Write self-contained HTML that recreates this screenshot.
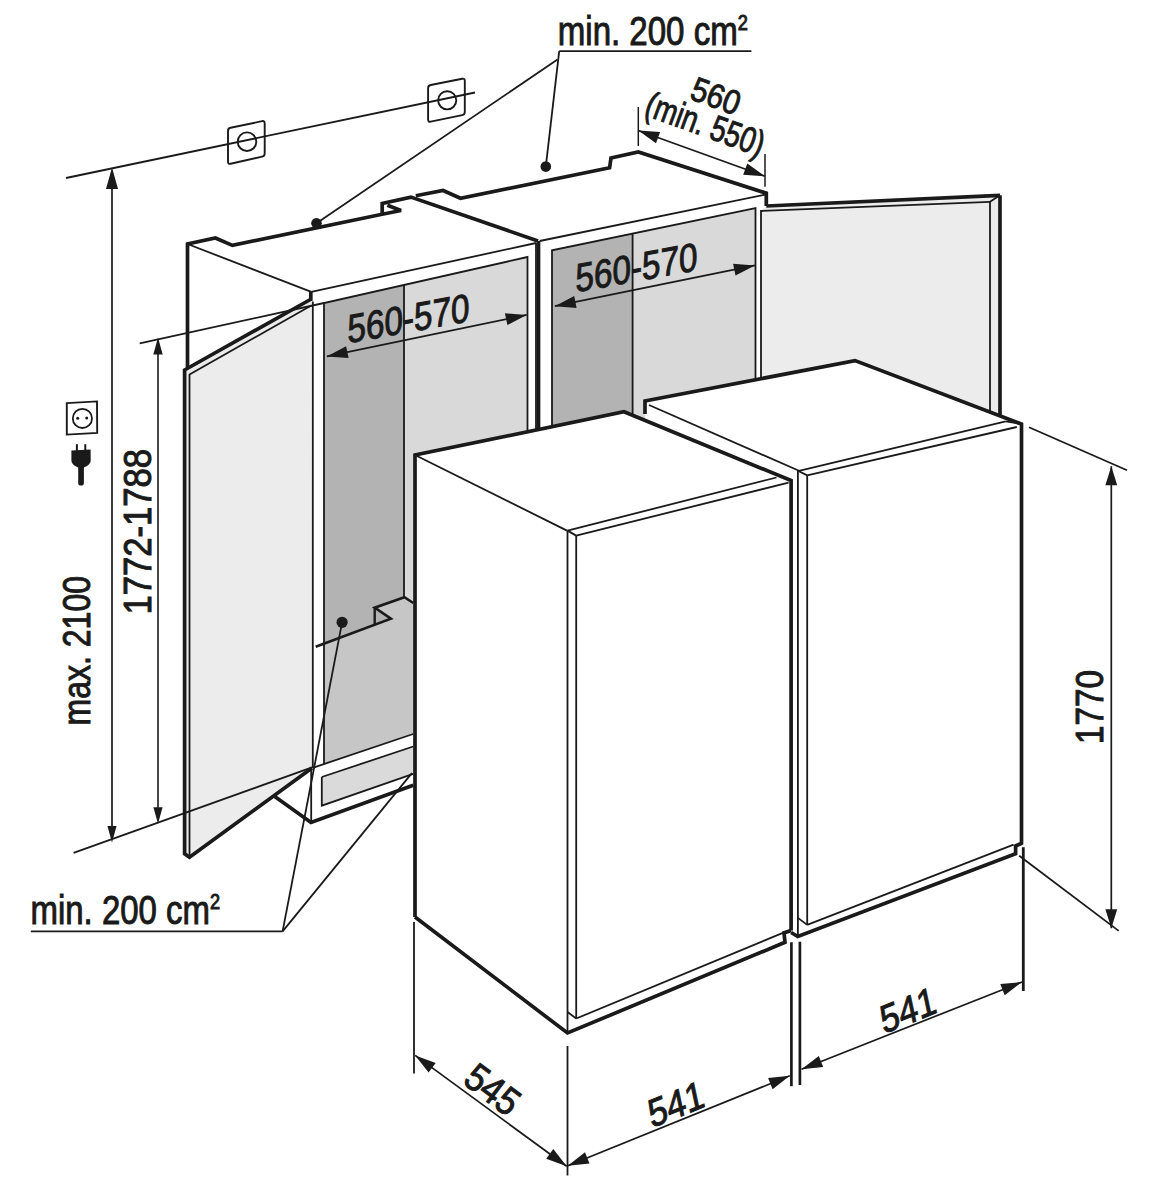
<!DOCTYPE html>
<html><head><meta charset="utf-8"><style>
html,body{margin:0;padding:0;background:#fff;}
svg{display:block;}
text{font-family:"Liberation Sans",sans-serif;fill:#1a1a1a;}
</style></head><body>
<svg width="1149" height="1200" viewBox="0 0 1149 1200" stroke="#1a1a1a" stroke-linecap="butt" fill="none">
<polygon points="324,303 404,284.8 404.4,597.2 374.7,607.7 390.9,618.6 324,643.7" fill="#b3b3b3" stroke="none"/>
<polygon points="404,284.8 527.5,257 527.5,470 413,470 413,603 404.4,597.2" fill="#d9d9d9" stroke="none"/>
<polygon points="324,643.7 390.9,618.6 374.7,607.7 404.4,597.2 413.3,603 413.3,734 324,764" fill="#c6c6c6" stroke="none"/>
<polygon points="321.8,777 413.2,746.5 413.2,773.9 321.8,805.7" fill="#dadada" stroke="none"/>
<polygon points="552,250.3 632.6,233.6 632.6,440 552,440" fill="#b3b3b3" stroke="none"/>
<polygon points="632.6,233.6 755.5,208.2 755.5,440 632.6,440" fill="#d9d9d9" stroke="none"/>
<polygon points="184.6,370 311.3,299 312.6,768 189.5,857.2 184.6,853.7" fill="#ececec" stroke="none"/>
<polygon points="761,211 766.3,206 1000,195.3 1000,440 761,440" fill="#ececec" stroke="none"/>
<line x1="66" y1="178" x2="475" y2="92.5" stroke-width="1.8"/>
<path d="M230.6,127.75 L262.09999999999997,121.15 Q264.7,120.6 264.7,123.20 L264.7,153.50 Q264.7,156.1 262.09999999999997,156.68 L230.6,163.72 Q228,164.3 228,161.70 L228,130.90 Q228,128.3 230.6,127.75 Z" stroke-width="1.9"/>
<ellipse cx="247" cy="141.7" rx="9.3" ry="9.3" fill="none" stroke-width="1.9"/>
<path d="M430.70000000000005,84.98 L462.2,78.72 Q464.8,78.2 464.8,80.80 L464.8,112.00 Q464.8,114.6 462.2,115.14 L430.70000000000005,121.66 Q428.1,122.2 428.1,119.60 L428.1,88.10 Q428.1,85.5 430.70000000000005,84.98 Z" stroke-width="1.9"/>
<ellipse cx="447.2" cy="100.3" rx="9.1" ry="9.1" fill="none" stroke-width="1.9"/>
<line x1="112" y1="185" x2="112" y2="830" stroke-width="1.7"/>
<polygon points="112.0,167.5 118.0,189.0 106.0,189.0" fill="#1a1a1a" stroke="none"/>
<polygon points="112.0,842.5 107.4,826.0 116.6,826.0" fill="#1a1a1a" stroke="none"/>
<line x1="73.6" y1="852.8" x2="312" y2="767.4" stroke-width="1.8"/>
<line x1="139.7" y1="343.4" x2="324" y2="303" stroke-width="1.8"/>
<line x1="158" y1="350" x2="158" y2="812" stroke-width="1.6"/>
<polygon points="158.0,337.4 162.7,354.4 153.3,354.4" fill="#1a1a1a" stroke="none"/>
<polygon points="158.0,823.8 153.4,807.3 162.6,807.3" fill="#1a1a1a" stroke="none"/>
<polyline points="187.5,367.5 187.5,244 215.4,238 232.4,245.4 382.2,214.2 401,210.5 387.4,205.3" fill="none" stroke-width="3.7" stroke-linejoin="miter" stroke-miterlimit="3"/>
<polyline points="382.2,214.2 382.2,203.5 410.9,197.1 538,241" fill="none" stroke-width="3.7" stroke-linejoin="miter" stroke-miterlimit="3"/>
<line x1="187.5" y1="244" x2="311.3" y2="291.9" stroke-width="1.8"/>
<line x1="311.3" y1="291.9" x2="536" y2="243" stroke-width="1.8"/>
<line x1="310.8" y1="291.5" x2="310.8" y2="300.8" stroke-width="3.7"/>
<line x1="312.8" y1="301.5" x2="312.8" y2="768" stroke-width="1.8"/>
<polyline points="324,643.5 324,303 527.5,257 527.5,460" fill="none" stroke-width="1.8" stroke-linejoin="miter" stroke-miterlimit="3"/>
<line x1="404" y1="284.8" x2="404" y2="597.2" stroke-width="1.8"/>
<line x1="536" y1="243" x2="536" y2="460" stroke-width="1.8"/>
<polyline points="315.7,646.8 390.9,618.6 374.7,607.7 404.4,597.2 413.3,603" fill="none" stroke-width="2.6" stroke-linejoin="miter" stroke-miterlimit="3"/>
<line x1="374.7" y1="607.7" x2="374.7" y2="624" stroke-width="2.4"/>
<line x1="312.8" y1="767.8" x2="413.2" y2="734" stroke-width="1.8"/>
<line x1="324" y1="764" x2="324" y2="643.5" stroke-width="1.8"/>
<polyline points="321.8,777 413.2,746.5" fill="none" stroke-width="1.8" stroke-linejoin="miter" stroke-miterlimit="3"/>
<polyline points="321.8,777 321.8,805.7 413.2,773.9" fill="none" stroke-width="1.8" stroke-linejoin="miter" stroke-miterlimit="3"/>
<polyline points="273,795.2 311,822.5 413.2,785.3" fill="none" stroke-width="3.7" stroke-linejoin="miter" stroke-miterlimit="3"/>
<line x1="311.2" y1="768" x2="311.2" y2="822" stroke-width="1.8"/>
<polyline points="311.3,299 184.6,370 184.6,853.7 189.5,857.2 312,768" fill="none" stroke-width="3.7" stroke-linejoin="miter" stroke-miterlimit="3"/>
<line x1="189.5" y1="374" x2="189.5" y2="857" stroke-width="1.8"/>
<line x1="189.5" y1="374.5" x2="311.3" y2="305.5" stroke-width="1.8"/>
<polyline points="415.8,195.7 443.1,190.5 460.5,198.3 609.6,167.8 611,158 638.3,152 766.3,193.2 766.3,206" fill="none" stroke-width="3.7" stroke-linejoin="miter" stroke-miterlimit="3"/>
<line x1="538.5" y1="241" x2="538.5" y2="460" stroke-width="3.7"/>
<line x1="539.7" y1="241" x2="765" y2="194.6" stroke-width="1.8"/>
<polyline points="552,440 552,250.3 755.5,208.2 755.5,440" fill="none" stroke-width="1.8" stroke-linejoin="miter" stroke-miterlimit="3"/>
<line x1="632.6" y1="233.6" x2="632.6" y2="440" stroke-width="1.8"/>
<line x1="761" y1="210" x2="761" y2="440" stroke-width="1.8"/>
<line x1="766.3" y1="206" x2="1000" y2="195.3" stroke-width="3.7"/>
<line x1="1000" y1="195.3" x2="1000" y2="430" stroke-width="3.7"/>
<line x1="761" y1="211" x2="990" y2="201.8" stroke-width="1.8"/>
<line x1="990" y1="201.8" x2="990" y2="430" stroke-width="1.8"/>
<line x1="990" y1="201.8" x2="1000" y2="195.3" stroke-width="1.8"/>
<circle cx="316.5" cy="223.2" r="5.3" fill="#1a1a1a" stroke="none"/>
<circle cx="545.8" cy="166.6" r="5.3" fill="#1a1a1a" stroke="none"/>
<circle cx="342.1" cy="622.3" r="5.6" fill="#1a1a1a" stroke="none"/>
<line x1="559.2" y1="51.2" x2="751.4" y2="51.2" stroke-width="1.8"/>
<line x1="559.2" y1="51.2" x2="545.8" y2="166.6" stroke-width="1.8"/>
<line x1="557.5" y1="59.5" x2="316.5" y2="223.2" stroke-width="1.8"/>
<line x1="30.8" y1="931.4" x2="282.6" y2="931.4" stroke-width="1.8"/>
<line x1="282.6" y1="931.4" x2="342.1" y2="622.3" stroke-width="1.8"/>
<line x1="282.6" y1="931.4" x2="411.9" y2="773.1" stroke-width="1.8"/>
<polygon points="645,401 855,360.6 1022,424 1022,844 800,935 791,482 645,420.6" fill="#ffffff" stroke="none"/>
<polygon points="414.5,455 624,411.8 791,482 791,941 567,1033 415,917" fill="#ffffff" stroke="none"/>
<polyline points="415,917 415,455 624,411.8 791.1,480.6 791.1,930.5" fill="none" stroke-width="3.7" stroke-linejoin="miter" stroke-miterlimit="3"/>
<polyline points="415,917 567.5,1033 785,942.3 784,932.9 791.1,930.5" fill="none" stroke-width="3.7" stroke-linejoin="miter" stroke-miterlimit="3"/>
<line x1="415" y1="455" x2="567" y2="530.6" stroke-width="1.8"/>
<line x1="567.5" y1="530.6" x2="567.5" y2="1033" stroke-width="1.8"/>
<line x1="567.5" y1="530.6" x2="776.5" y2="477.5" stroke-width="1.8"/>
<line x1="576.2" y1="535.6" x2="788.6" y2="482.6" stroke-width="1.8"/>
<line x1="576.2" y1="535.6" x2="576.2" y2="1018.5" stroke-width="1.8"/>
<line x1="576.2" y1="1018.5" x2="782.9" y2="932.9" stroke-width="1.8"/>
<line x1="567.5" y1="530.6" x2="576.2" y2="535.6" stroke-width="1.8"/>
<line x1="567.5" y1="1012" x2="576.2" y2="1018.5" stroke-width="1.8"/>
<polyline points="645,414 645,401 855,360.6 1021.5,424 1021.5,843.3 1015.6,846 1015.6,853.7 797.8,936.5 791.1,932.5" fill="none" stroke-width="3.7" stroke-linejoin="miter" stroke-miterlimit="3"/>
<line x1="649" y1="405" x2="799" y2="470.8" stroke-width="1.8"/>
<line x1="797.9" y1="470.8" x2="797.9" y2="936" stroke-width="1.8"/>
<line x1="799" y1="470.8" x2="1005.7" y2="421.4" stroke-width="1.8"/>
<line x1="807.2" y1="475.4" x2="1016.8" y2="427" stroke-width="1.8"/>
<line x1="807.2" y1="475.4" x2="807.2" y2="924.9" stroke-width="1.8"/>
<line x1="807.2" y1="924.9" x2="1013.6" y2="844.6" stroke-width="1.8"/>
<line x1="797.9" y1="470.8" x2="807.2" y2="475.4" stroke-width="1.8"/>
<line x1="797.9" y1="917.9" x2="807.2" y2="924.9" stroke-width="1.8"/>
<line x1="1005.7" y1="421.4" x2="1021.5" y2="424" stroke-width="1.8"/>
<line x1="414" y1="922" x2="414" y2="1073.6" stroke-width="1.8"/>
<line x1="567.5" y1="1046" x2="567.5" y2="1175.5" stroke-width="1.8"/>
<line x1="415.2" y1="1055.4" x2="566.7" y2="1166.3" stroke-width="1.7"/>
<polygon points="566.7,1166.3 546.2,1158.7 553.3,1149.1" fill="#1a1a1a" stroke="none"/>
<polygon points="415.2,1055.4 435.7,1063.0 428.6,1072.6" fill="#1a1a1a" stroke="none"/>
<line x1="791.4" y1="942.3" x2="791.4" y2="1086.2" stroke-width="2.7"/>
<line x1="799.9" y1="941.7" x2="799.9" y2="1085" stroke-width="2.7"/>
<line x1="567.8" y1="1165.8" x2="789.8" y2="1075.8" stroke-width="1.7"/>
<polygon points="789.8,1075.8 772.6,1089.3 768.1,1078.1" fill="#1a1a1a" stroke="none"/>
<polygon points="567.8,1165.8 585.0,1152.3 589.5,1163.5" fill="#1a1a1a" stroke="none"/>
<line x1="1023.3" y1="847.2" x2="1023.3" y2="991" stroke-width="2.8"/>
<line x1="801.5" y1="1069.2" x2="1022" y2="982" stroke-width="1.7"/>
<polygon points="1022.0,982.0 1004.7,995.3 1000.3,984.1" fill="#1a1a1a" stroke="none"/>
<polygon points="801.5,1069.2 818.8,1055.9 823.2,1067.1" fill="#1a1a1a" stroke="none"/>
<line x1="1029" y1="427.2" x2="1127" y2="470.2" stroke-width="1.8"/>
<line x1="1019.2" y1="855.7" x2="1118.7" y2="930.9" stroke-width="1.8"/>
<line x1="1111.3" y1="466.3" x2="1111.3" y2="928.3" stroke-width="1.7"/>
<polygon points="1111.3,928.3 1105.4,909.3 1117.2,909.3" fill="#1a1a1a" stroke="none"/>
<polygon points="1111.3,466.3 1117.2,485.3 1105.4,485.3" fill="#1a1a1a" stroke="none"/>
<line x1="638.3" y1="107" x2="638.3" y2="146" stroke-width="1.5"/>
<line x1="765" y1="154" x2="765" y2="186.7" stroke-width="1.5"/>
<line x1="638.3" y1="130.5" x2="765" y2="176.2" stroke-width="1.7"/>
<polygon points="765.0,176.2 743.2,174.7 747.3,163.4" fill="#1a1a1a" stroke="none"/>
<polygon points="638.3,130.5 660.1,132.0 656.0,143.3" fill="#1a1a1a" stroke="none"/>
<line x1="326.8" y1="356.4" x2="526.7" y2="314.9" stroke-width="1.7"/>
<polygon points="526.7,314.9 507.4,325.0 504.9,313.3" fill="#1a1a1a" stroke="none"/>
<polygon points="326.8,356.4 346.1,346.3 348.6,358.0" fill="#1a1a1a" stroke="none"/>
<line x1="554.8" y1="306.2" x2="754.9" y2="265.4" stroke-width="1.7"/>
<polygon points="754.9,265.4 735.5,275.5 733.1,263.7" fill="#1a1a1a" stroke="none"/>
<polygon points="554.8,306.2 574.2,296.1 576.6,307.9" fill="#1a1a1a" stroke="none"/>
<polygon points="66.8,403.1 97,401.4 97.2,432.9 66.8,434.6" fill="none" stroke-width="1.9" stroke-linejoin="miter" stroke-miterlimit="3"/>
<circle cx="82.4" cy="418.4" r="9.6" fill="none" stroke-width="1.8"/>
<circle cx="77.7" cy="418.2" r="1.5" fill="#1a1a1a" stroke="none"/>
<circle cx="86.7" cy="417.9" r="1.5" fill="#1a1a1a" stroke="none"/>
<path d="M71.4,450.6 L90.6,449.4 L90.7,460.5 Q90.7,463.8 86.5,466.3 L83.9,467.6 V483 Q83.9,485.6 81,485.6 Q78.2,485.6 78.2,483 V467.6 L75.6,466.3 Q71.4,463.8 71.4,460.5 Z" fill="#1a1a1a" stroke="none"/>
<rect x="75.9" y="444.2" width="2" height="7" fill="#1a1a1a" stroke="none"/>
<rect x="84.3" y="444.2" width="2" height="7" fill="#1a1a1a" stroke="none"/>
<text x="0" y="0" font-size="40" textLength="190" lengthAdjust="spacingAndGlyphs" text-anchor="start" transform="translate(557.8,44.9)">min. 200 cm<tspan font-size="22" dy="-15">2</tspan></text>
<text x="0" y="0" font-size="40" textLength="189.5" lengthAdjust="spacingAndGlyphs" text-anchor="start" transform="translate(30.5,924)">min. 200 cm<tspan font-size="22" dy="-15">2</tspan></text>
<text x="0" y="0" font-size="39.5" textLength="149.5" lengthAdjust="spacingAndGlyphs" text-anchor="start" transform="translate(90,725.5) rotate(-90)">max. 2100</text>
<text x="0" y="0" font-size="39" textLength="165.5" lengthAdjust="spacingAndGlyphs" text-anchor="start" transform="translate(150.8,614.5) rotate(-90)">1772-1788</text>
<text x="0" y="0" font-size="38.5" textLength="74" lengthAdjust="spacingAndGlyphs" text-anchor="start" transform="translate(1102.5,744) rotate(-90)">1770</text>
<text x="0" y="0" font-size="40" textLength="122" lengthAdjust="spacingAndGlyphs" text-anchor="start" transform="translate(347.5,343.3) skewY(-10.3)">560-570</text>
<text x="0" y="0" font-size="40" textLength="122" lengthAdjust="spacingAndGlyphs" text-anchor="start" transform="translate(575.5,292.3) skewY(-10.3)">560-570</text>
<text x="0" y="0" font-size="34" textLength="50" lengthAdjust="spacingAndGlyphs" text-anchor="middle" transform="translate(716,95.8) rotate(20) translate(0,12)">560</text>
<text x="0" y="0" font-size="36" textLength="124" lengthAdjust="spacingAndGlyphs" text-anchor="middle" transform="translate(705.5,124) rotate(20) translate(0,12.5)">(min. 550)</text>
<text x="0" y="0" font-size="39" textLength="58" lengthAdjust="spacingAndGlyphs" text-anchor="middle" transform="translate(492.7,1089.4) rotate(37) translate(0,13.5)">545</text>
<text x="0" y="0" font-size="39" textLength="58" lengthAdjust="spacingAndGlyphs" text-anchor="middle" transform="translate(676,1104) rotate(-12) skewY(-10) translate(0,13.5)">541</text>
<text x="0" y="0" font-size="39" textLength="58" lengthAdjust="spacingAndGlyphs" text-anchor="middle" transform="translate(908,1010) rotate(-12) skewY(-10) translate(0,13.5)">541</text>
</svg>
</body></html>
